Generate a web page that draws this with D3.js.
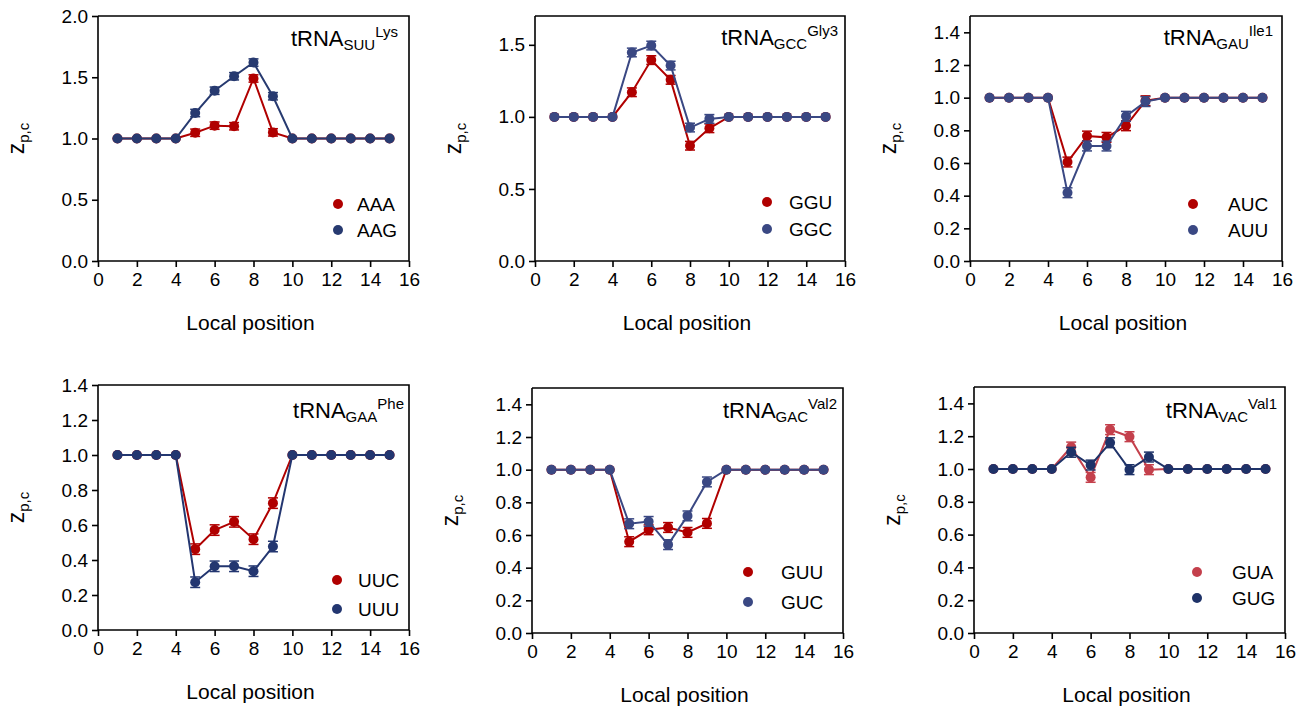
<!DOCTYPE html>
<html>
<head>
<meta charset="utf-8">
<script src="https://cdn.jsdelivr.net/npm/d3@7/dist/d3.min.js"></script>
<style>
  html, body { margin: 0; padding: 0; background: #fff; }
  svg { display: block; font-family: "Liberation Sans", Arial, sans-serif; }
</style>
</head>
<body>
<svg id="chart" width="1302" height="708"></svg>
<script>
// ---------------- data ----------------
const positions = [1, 2, 3, 4, 5, 6, 7, 8, 9, 10, 11, 12, 13, 14, 15];
const xTicks = [0, 2, 4, 6, 8, 10, 12, 14, 16];

const lysAAA = [1, 1, 1, 1, 1.047, 1.105, 1.10, 1.49, 1.05, 1, 1, 1, 1, 1, 1];
const lysAAG = [1, 1, 1, 1, 1.208, 1.39, 1.508, 1.62, 1.345, 1, 1, 1, 1, 1, 1];

const glyGGU = [1, 1, 1, 1, 1.171, 1.394, 1.257, 0.80, 0.921, 1, 1, 1, 1, 1, 1];
const glyGGC = [1, 1, 1, 1, 1.447, 1.495, 1.356, 0.926, 0.986, 1, 1, 1, 1, 1, 1];

const ileAUC = [1, 1, 1, 1, 0.606, 0.765, 0.757, 0.828, 0.981, 1, 1, 1, 1, 1, 1];
const ileAUU = [1, 1, 1, 1, 0.418, 0.704, 0.704, 0.886, 0.976, 1, 1, 1, 1, 1, 1];

const pheUUC = [1, 1, 1, 1, 0.462, 0.571, 0.618, 0.519, 0.725, 1, 1, 1, 1, 1, 1];
const pheUUU = [1, 1, 1, 1, 0.273, 0.364, 0.364, 0.336, 0.477, 1, 1, 1, 1, 1, 1];

const val2GUU = [1, 1, 1, 1, 0.559, 0.632, 0.646, 0.616, 0.671, 1, 1, 1, 1, 1, 1];
const val2GUC = [1, 1, 1, 1, 0.669, 0.683, 0.541, 0.717, 0.925, 1, 1, 1, 1, 1, 1];

const val1GUA = [1, 1, 1, 1, 1.134, 0.949, 1.240, 1.197, 0.996, 1, 1, 1, 1, 1, 1];
const val1GUG = [1, 1, 1, 1, 1.102, 1.024, 1.160, 0.996, 1.073, 1, 1, 1, 1, 1, 1];

const seSmall = [0, 0, 0, 0, 0.03, 0.03, 0.03, 0.03, 0.03, 0, 0, 0, 0, 0, 0];

const yTicksA = [0, 0.5, 1.0, 1.5, 2.0];
const yTicksB = [0, 0.5, 1.0, 1.5];
const yTicksC = [0, 0.2, 0.4, 0.6, 0.8, 1.0, 1.2, 1.4];

// ---------------- panel layout ----------------
const panels = [
  { box: [98, 16, 409, 261], yMax: 2.0, yTicks: yTicksA,
    title: ["tRNA", "SUU", "Lys"], titleDx: 11, titleDy: 30,
    series: [ { name: "AAA", values: lysAAA, color: "#b00000" },
              { name: "AAG", values: lysAAG, color: "#273a70" } ],
    leg: { dot: 71, text: 52, rows: [57, 31] } },
  { box: [535, 16, 845, 261], yMax: 1.7, yTicks: yTicksB,
    title: ["tRNA", "GCC", "Gly3"], titleDx: 7, titleDy: 29,
    series: [ { name: "GGU", values: glyGGU, color: "#b00000" },
              { name: "GGC", values: glyGGC, color: "#3a4883" } ],
    leg: { dot: 78, text: 56, rows: [59, 32] } },
  { box: [970, 16, 1282, 261], yMax: 1.5, yTicks: yTicksC,
    title: ["tRNA", "GAU", "Ile1"], titleDx: 9, titleDy: 29,
    series: [ { name: "AUC", values: ileAUC, color: "#b00000" },
              { name: "AUU", values: ileAUU, color: "#3a4883" } ],
    leg: { dot: 89, text: 54, rows: [57, 31] } },
  { box: [98, 385, 409, 630], yMax: 1.4, yTicks: yTicksC,
    title: ["tRNA", "GAA", "Phe"], titleDx: 5, titleDy: 33,
    series: [ { name: "UUC", values: pheUUC, color: "#b00000" },
              { name: "UUU", values: pheUUU, color: "#233670" } ],
    leg: { dot: 72, text: 51, rows: [50, 21] } },
  { box: [532, 388, 843, 633], yMax: 1.5, yTicks: yTicksC,
    title: ["tRNA", "GAC", "Val2"], titleDx: 6, titleDy: 30,
    series: [ { name: "GUU", values: val2GUU, color: "#b00000" },
              { name: "GUC", values: val2GUC, color: "#3a4883" } ],
    leg: { dot: 95, text: 62, rows: [61, 31] } },
  { box: [974, 387, 1285, 633], yMax: 1.5, yTicks: yTicksC,
    title: ["tRNA", "VAC", "Val1"], titleDx: 8, titleDy: 31,
    series: [ { name: "GUA", values: val1GUA, color: "#c4404c" },
              { name: "GUG", values: val1GUG, color: "#1e3268" } ],
    leg: { dot: 88, text: 53, rows: [61, 35] } }
];

const svg = d3.select("#chart");

panels.forEach(p => {
  const [L, T, R, B] = p.box;
  const x = d3.scaleLinear().domain([0, 16]).range([L, R]);
  const y = d3.scaleLinear().domain([0, p.yMax]).range([B, T]);
  const g = svg.append("g");

  // frame (top & right)
  g.append("path")
    .attr("d", `M${L},${T}H${R}V${B}`)
    .attr("fill", "none").attr("stroke", "#000").attr("stroke-width", 1.6);

  // axes
  const yAxis = d3.axisLeft(y).tickValues(p.yTicks).tickSize(6).tickPadding(4)
    .tickFormat(d3.format(".1f"));
  const gy = g.append("g").attr("transform", `translate(${L},0)`).call(yAxis);
  const xAxis = d3.axisBottom(x).tickValues(xTicks).tickSize(6).tickPadding(6)
    .tickFormat(d3.format("d"));
  const gx = g.append("g").attr("transform", `translate(0,${B})`).call(xAxis);
  [gx, gy].forEach(ax => {
    ax.select(".domain").attr("stroke", "#000").attr("stroke-width", 1.6)
      .attr("d", ax === gx ? `M${L},0H${R}` : `M0,${B}V${T}`);
    ax.selectAll(".tick line").attr("stroke", "#000").attr("stroke-width", 1.6);
    ax.selectAll(".tick text").attr("fill", "#000")
      .style("font-size", "19px").style("font-family", '"Liberation Sans", Arial, sans-serif');
  });

  // axis titles
  g.append("text")
    .attr("x", (L + R) / 2 - 3).attr("y", B + 69)
    .attr("text-anchor", "middle").style("font-size", "21px").attr("fill", "#000")
    .text("Local position");
  const yl = g.append("text")
    .attr("transform", `translate(${L - 74},${(T + B) / 2}) rotate(-90)`)
    .attr("text-anchor", "middle").attr("fill", "#000");
  yl.append("tspan").style("font-size", "23px").text("z");
  yl.append("tspan").style("font-size", "15px").attr("dy", 5).text("p,c");

  // title
  const tt = g.append("text")
    .attr("x", R - p.titleDx).attr("y", T + p.titleDy)
    .attr("text-anchor", "end").attr("fill", "#000");
  tt.append("tspan").style("font-size", "22px").text(p.title[0]);
  tt.append("tspan").style("font-size", "15px").attr("dy", 4).text(p.title[1]);
  tt.append("tspan").style("font-size", "15px").attr("dy", -13).text(p.title[2]);

  // series
  const line = d3.line().x((d, i) => x(positions[i])).y(d => y(d));
  p.series.forEach(s => {
    const sg = g.append("g");
    sg.append("path").datum(s.values)
      .attr("d", line).attr("fill", "none")
      .attr("stroke", s.color).attr("stroke-width", 2);
    const pts = s.values.map((v, i) => ({ x: positions[i], v, e: seSmall[i] }));
    const eb = sg.selectAll(".eb").data(pts.filter(d => d.e > 0)).enter().append("g");
    eb.append("line")
      .attr("x1", d => x(d.x)).attr("x2", d => x(d.x))
      .attr("y1", d => y(d.v - d.e)).attr("y2", d => y(d.v + d.e))
      .attr("stroke", s.color).attr("stroke-width", 1.5);
    [-1, 1].forEach(sign => {
      eb.append("line")
        .attr("x1", d => x(d.x) - 5).attr("x2", d => x(d.x) + 5)
        .attr("y1", d => y(d.v + sign * d.e))
        .attr("y2", d => y(d.v + sign * d.e))
        .attr("stroke", s.color).attr("stroke-width", 1.5);
    });
    sg.selectAll("circle").data(pts).enter().append("circle")
      .attr("cx", d => x(d.x)).attr("cy", d => y(d.v)).attr("r", 5)
      .attr("fill", s.color);
  });

  // legend
  p.series.forEach((s, i) => {
    const ly = B - p.leg.rows[i];
    g.append("circle").attr("cx", R - p.leg.dot).attr("cy", ly).attr("r", 5)
      .attr("fill", s.color);
    g.append("text").attr("x", R - p.leg.text).attr("y", ly + 7)
      .style("font-size", "19px").attr("fill", "#000").text(s.name);
  });
});
</script>
</body>
</html>
